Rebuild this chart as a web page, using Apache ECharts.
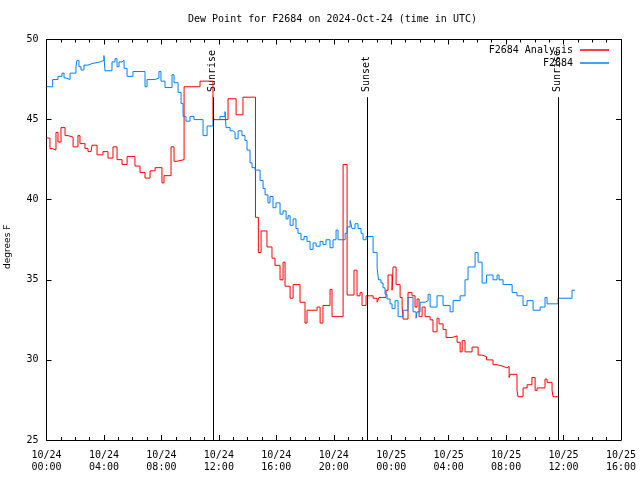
<!DOCTYPE html>
<html><head><meta charset="utf-8">
<script src="https://cdn.jsdelivr.net/npm/echarts@6/dist/echarts.min.js"></script>
<style>html,body{margin:0;padding:0;background:#fff}#c{width:640px;height:480px}</style>
</head><body><div id="c"></div>
<script>
// hours since 2024-10-24 00:00 UTC
const xTickLabels = ['10/24\n00:00','10/24\n04:00','10/24\n08:00','10/24\n12:00','10/24\n16:00','10/24\n20:00','10/25\n00:00','10/25\n04:00','10/25\n08:00','10/25\n12:00','10/25\n16:00'];

const analysisHours = [0,0.24,0.38,0.66,0.80,1.01,1.29,1.50,1.85,2.19,2.33,2.68,2.89,3.10,3.17,3.52,3.93,4.28,4.63,4.91,5.26,5.61,6.16,6.51,6.86,7.21,7.56,8.04,8.18,8.67,8.88,9.09,9.58,10.69,11.59,12.64,13.20,13.68,14.55,14.75,14.94,15.35,15.70,15.91,16.26,16.47,16.61,16.96,17.17,17.65,18.00,18.14,18.84,19.05,19.25,19.74,19.88,20.65,20.93,21.41,21.62,21.83,21.97,22.25,22.74,23.02,23.15,23.64,23.78,24.06,24.13,24.34,24.62,24.76,24.83,25.17,25.45,25.66,25.80,25.94,26.15,26.36,26.71,26.91,27.19,27.33,27.61,27.82,28.24,28.59,28.80,28.94,29.14,29.63,30.05,30.33,30.64,31.09,31.37,31.79,32.07,32.21,32.28,32.76,32.83,33.18,33.46,33.80,34.02,34.16,34.71,34.85,35.20,35.27,35.62];
const analysisValues = [43.85,43.2,43.1,44.2,43.6,44.5,44.0,43.9,43.3,44.0,43.5,43.2,43.0,42.9,43.4,42.8,43.0,42.6,43.3,42.5,42.2,42.7,42.1,41.7,41.35,41.8,42.0,41.05,41.5,43.3,42.4,42.5,47.05,47.4,45.0,46.3,45.3,46.4,38.9,36.7,38.05,37.05,36.35,35.9,35.0,36.1,34.6,33.85,34.7,33.6,32.3,33.1,33.3,32.3,33.4,34.4,32.7,42.2,34.05,35.6,34.0,34.2,33.4,34.0,33.85,33.6,33.9,34.35,35.3,34.35,35.8,34.7,33.9,33.3,32.55,34.2,34.0,33.3,33.8,32.7,33.3,32.7,32.5,31.75,32.6,32.25,31.9,31.4,31.5,31.1,30.5,31.2,30.5,30.8,30.3,30.2,30.0,29.7,29.6,29.5,29.6,28.9,29.1,28.1,27.7,28.25,28.45,28.9,28.1,28.25,28.8,28.6,28.1,27.7,27.7];

const obsHours = [0,0.43,0.80,1.08,1.22,1.36,1.64,2.05,2.12,2.26,2.40,2.61,2.89,3.17,3.73,4.00,4.07,4.56,4.77,4.91,5.05,5.26,5.40,5.61,6.02,6.86,7.00,7.56,7.83,7.97,8.25,8.74,8.88,9.16,9.37,9.51,9.71,9.99,10.27,10.90,11.18,11.59,12.08,12.43,12.50,12.78,12.99,13.13,13.34,13.61,13.82,13.96,14.17,14.31,14.52,14.87,15.08,15.22,15.42,15.56,15.77,15.98,16.26,16.47,16.68,16.82,16.96,17.17,17.37,17.51,17.72,17.93,18.14,18.35,18.56,18.77,19.05,19.25,19.46,19.74,19.95,20.16,20.30,20.79,20.93,21.14,21.27,21.48,21.69,21.90,22.04,22.25,22.74,23.02,23.12,23.29,23.43,23.57,23.71,23.92,24.06,24.27,24.48,24.83,25.17,25.52,25.73,25.80,26.01,26.36,26.57,26.71,27.19,27.61,28.10,28.31,28.80,29.14,29.35,29.84,30.05,30.33,30.64,31.09,31.37,31.51,31.79,32.42,32.76,33.18,33.46,33.88,34.37,34.71,34.85,35.62,36.59,36.80];
const obsValues = [47.05,47.5,47.7,47.9,47.6,47.5,47.9,48.3,48.7,48.3,48.1,48.4,48.5,48.6,48.7,49.0,48.05,48.6,48.8,48.3,48.6,48.7,48.2,47.7,48.0,47.05,47.5,47.6,48.0,47.4,47.0,47.8,47.3,46.7,46.0,45.2,44.9,45.2,45.0,44.0,44.6,45.0,45.2,45.5,44.5,44.3,44.2,43.8,44.3,44.0,43.7,43.1,42.3,42.0,41.85,41.2,40.7,40.3,39.8,40.2,39.5,39.8,39.1,39.3,38.8,39.0,38.4,38.8,38.2,37.9,37.5,37.7,37.4,36.9,37.3,37.1,37.4,37.2,37.5,37.0,37.5,38.1,37.5,37.9,38.3,38.7,38.2,38.5,38.2,37.9,37.5,37.7,36.7,35.7,35.0,34.8,34.5,34.1,33.8,33.5,33.2,33.7,32.7,33.1,33.9,33.0,32.6,33.0,33.6,33.7,34.1,33.3,34.0,33.4,33.0,33.7,34.0,35.0,35.8,36.7,36.1,34.8,35.3,35.0,35.3,35.0,34.7,34.2,34.0,33.4,33.7,33.1,33.3,33.9,33.5,33.85,34.35,34.35];

const eventNames = ['Sunrise','Sunset','Sunrise'];
const eventHours = [11.62, 22.32, 35.62];

const FONT = '"DejaVu Sans Mono", "Liberation Mono", monospace';
const pairs = (h, v) => h.map((t, i) => [t, v[i]]);
const black = {color:'#000', width:1};

const chart = echarts.init(document.getElementById('c'), null, {renderer:'canvas'});
chart.setOption({
  animation:false,
  backgroundColor:'#fff',
  title:{text:'Dew Point for F2684 on 2024-Oct-24 (time in UTC)', left:188, top:14, padding:0,
    textStyle:{fontFamily:FONT, fontSize:10, fontWeight:'normal', color:'#000'}},
  legend:{data:['F2684 Analysis','F2684'], orient:'vertical', right:31, top:44, padding:0,
    align:'right', itemWidth:29, itemHeight:1.5, itemGap:1, icon:'rect',
    textStyle:{fontFamily:FONT, fontSize:10, color:'#000', lineHeight:12, padding:[0,2,0,0]}},
  grid:{left:46.5, right:19, top:39.5, bottom:40, outerBoundsMode:'none'},
  xAxis:[
    {type:'value', min:0, max:40, interval:4, position:'bottom',
     axisLine:{onZero:false, lineStyle:black}, splitLine:{show:false},
     axisTick:{inside:true, length:5, lineStyle:black},
     minorTick:{show:true, splitNumber:4, length:3, lineStyle:black},
     axisLabel:{formatter:v => xTickLabels[Math.round(v/4)], fontFamily:FONT, fontSize:10, color:'#000', lineHeight:12, margin:9}},
    {type:'value', min:0, max:40, interval:4, position:'top',
     axisLine:{onZero:false, lineStyle:black}, splitLine:{show:false},
     axisTick:{inside:true, length:5, lineStyle:black},
     minorTick:{show:true, splitNumber:4, length:3, lineStyle:black},
     axisLabel:{show:false}}
  ],
  yAxis:[
    {type:'value', min:25, max:50, interval:5, position:'left',
     name:'degrees F', nameLocation:'middle', nameGap:34, nameRotate:90,
     nameTextStyle:{fontFamily:'"DejaVu Sans", sans-serif', fontSize:9, color:'#000', padding:[0,14,0,0]},
     axisLine:{show:true, onZero:false, lineStyle:black}, splitLine:{show:false},
     axisTick:{show:true, inside:true, length:5, lineStyle:black},
     axisLabel:{fontFamily:FONT, fontSize:10, color:'#000', margin:8}},
    {type:'value', min:25, max:50, interval:5, position:'right',
     axisLine:{show:true, onZero:false, lineStyle:black}, splitLine:{show:false},
     axisTick:{show:true, inside:true, length:5, lineStyle:black},
     axisLabel:{show:false}}
  ],
  series:[
    {name:'F2684 Analysis', type:'line', step:'end', data:pairs(analysisHours, analysisValues),
     symbol:'none', lineStyle:{color:'#ff0000', width:1}, itemStyle:{color:'#ff0000'}},
    {name:'F2684', type:'line', step:'end', data:pairs(obsHours, obsValues),
     symbol:'none', lineStyle:{color:'#0080ff', width:1}, itemStyle:{color:'#0080ff'},
     markLine:{symbol:'none', silent:true, label:{show:false}, lineStyle:{color:'#000', width:1, type:'solid'},
       emphasis:{disabled:true},
       data:eventHours.map(h => [{coord:[h, 25]}, {coord:[h, 46.4]}])}}
  ]
});

// event labels above the vertical lines
const labelBase = 46.72;
chart.setOption({
  graphic: eventHours.map((h, i) => {
    const p = chart.convertToPixel({xAxisIndex:0, yAxisIndex:0}, [h, labelBase]);
    return {type:'text', x:Math.round(p[0]) - 0.5, y:p[1], rotation:Math.PI/2, silent:true,
      style:{text:eventNames[i], font:'10px ' + FONT, fill:'#000', align:'left', verticalAlign:'middle',
             textAlign:'left', textVerticalAlign:'middle'}};
  })
});
</script>
</body></html>
